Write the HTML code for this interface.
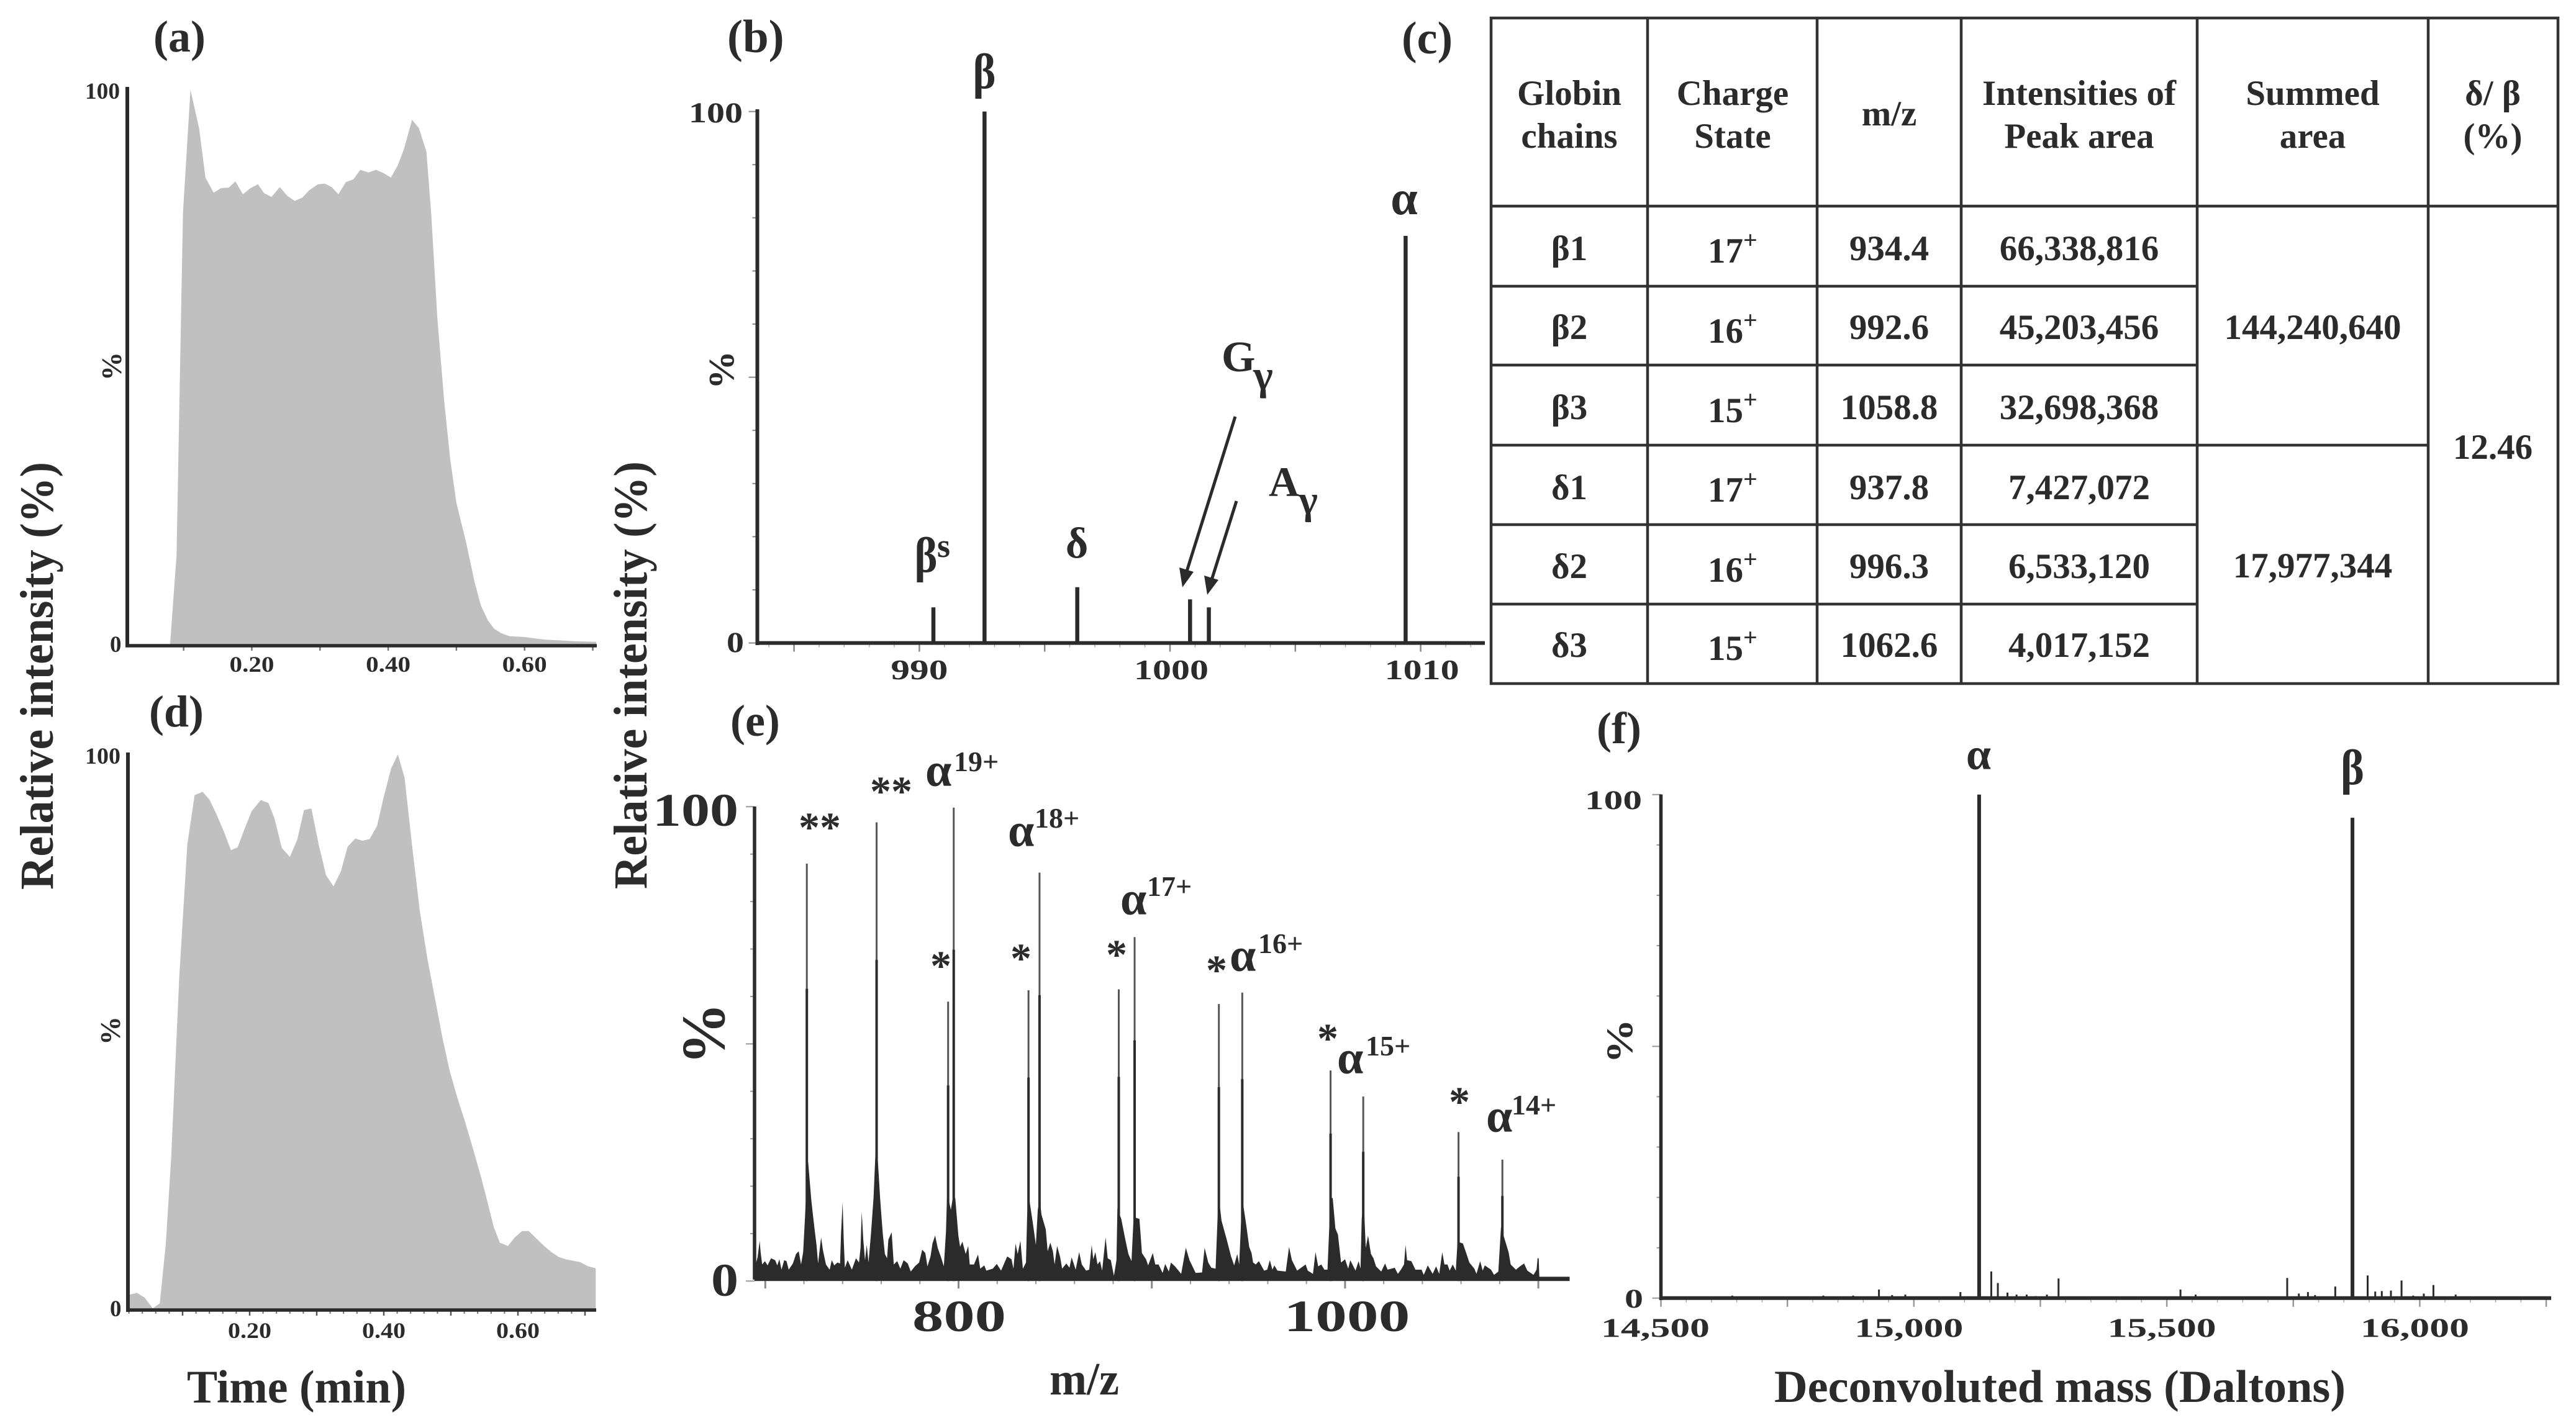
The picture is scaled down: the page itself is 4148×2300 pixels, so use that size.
<!DOCTYPE html>
<html lang="en">
<head>
<meta charset="utf-8">
<title>Globin chain mass spectrometry figure</title>
<style>
html,body{margin:0;padding:0;background:#fff;width:4148px;height:2300px;overflow:hidden}
svg{display:block}
text{font-family:"Liberation Serif","DejaVu Serif",serif;font-weight:bold;fill:#2b2b2b}
.c{text-anchor:middle}
</style>
</head>
<body>
<svg id="figure" xmlns="http://www.w3.org/2000/svg" width="4148" height="2300" viewBox="0 0 4148 2300">
  <rect x="0" y="0" width="4148" height="2300" fill="#ffffff"/>

  <text transform="translate(85,1433) rotate(-90)" font-size="76" textLength="689" lengthAdjust="spacingAndGlyphs">Relative intensity (%)</text>
  <text transform="translate(1041,1432) rotate(-90)" font-size="76" textLength="689" lengthAdjust="spacingAndGlyphs">Relative intensity (%)</text>

  <g id="panel-a">
    <text x="247" y="83" font-size="72">(a)</text>
    <text x="137" y="159" font-size="37" textLength="56" lengthAdjust="spacingAndGlyphs">100</text>
    <text x="177" y="1050" font-size="37">0</text>
    <text class="c" transform="translate(195,590) rotate(-90)" font-size="46">%</text>
  </g>

  <g id="panel-d">
    <text x="240" y="1170" font-size="72">(d)</text>
    <text x="137" y="1230" font-size="37" textLength="57" lengthAdjust="spacingAndGlyphs">100</text>
    <text x="177" y="2120" font-size="37">0</text>
    <text class="c" transform="translate(193,1660) rotate(-90)" font-size="46">%</text>
    <text x="301" y="2259" font-size="75" textLength="353" lengthAdjust="spacingAndGlyphs">Time (min)</text>
  </g>

  <g id="panel-b">
    <text x="1171" y="84" font-size="75">(b)</text>
    <text x="1109" y="197" font-size="47" textLength="87" lengthAdjust="spacingAndGlyphs">100</text>
    <text x="1170" y="1050" font-size="47" textLength="28" lengthAdjust="spacingAndGlyphs">0</text>
    <text class="c" transform="translate(1181,596) rotate(-90)" font-size="58" textLength="62" lengthAdjust="spacingAndGlyphs">%</text>
    <text class="c" x="1585" y="142" font-size="80" textLength="37" lengthAdjust="spacingAndGlyphs">β</text>
    <text class="c" x="2261" y="345" font-size="78">α</text>
    <text class="c" x="1491" y="921" font-size="80" textLength="37" lengthAdjust="spacingAndGlyphs">β</text>
    <text x="1509" y="897" font-size="54">s</text>
    <text class="c" x="1734" y="898" font-size="70">δ</text>
    <text x="1967" y="598" font-size="70">G</text>
    <text x="2018" y="627" font-size="68">γ</text>
    <text x="2043" y="799" font-size="68">A</text>
    <text x="2091" y="827" font-size="66">γ</text>
    <line x1="1989" y1="671" x2="1911" y2="920" stroke="#2b2b2b" stroke-width="5"/>
    <polygon points="1904,946 1899,914 1922,921" fill="#2b2b2b"/>
    <line x1="1991" y1="807" x2="1951" y2="934" stroke="#2b2b2b" stroke-width="5"/>
    <polygon points="1944,958 1939,927 1962,934" fill="#2b2b2b"/>
  </g>

  <text x="2257" y="86" font-size="74">(c)</text>

  <g id="globin-table" font-size="57">
    <g stroke="#333333" stroke-width="4.5">
      <rect x="2401" y="29" width="1718" height="1072" fill="none"/>
      <line x1="2653" y1="29" x2="2653" y2="1101"/>
      <line x1="2926" y1="29" x2="2926" y2="1101"/>
      <line x1="3158" y1="29" x2="3158" y2="1101"/>
      <line x1="3538" y1="29" x2="3538" y2="1101"/>
      <line x1="3910" y1="29" x2="3910" y2="1101"/>
      <line x1="2401" y1="332" x2="4119" y2="332"/>
      <line x1="2401" y1="461" x2="3538" y2="461"/>
      <line x1="2401" y1="588" x2="3538" y2="588"/>
      <line x1="2401" y1="717" x2="3910" y2="717"/>
      <line x1="2401" y1="845" x2="3538" y2="845"/>
      <line x1="2401" y1="973" x2="3538" y2="973"/>
    </g>
    <text class="c" x="2527" y="169">Globin</text>
    <text class="c" x="2527" y="238">chains</text>
    <text class="c" x="2790" y="169">Charge</text>
    <text class="c" x="2790" y="238">State</text>
    <text class="c" x="3042" y="202">m/z</text>
    <text class="c" x="3348" y="169">Intensities of</text>
    <text class="c" x="3348" y="238">Peak area</text>
    <text class="c" x="3724" y="169">Summed</text>
    <text class="c" x="3724" y="238">area</text>
    <text class="c" x="4014" y="169">δ/ β</text>
    <text class="c" x="4014" y="238">(%)</text>

    <text class="c" x="2527" y="419">β1</text>
    <text class="c" x="2527" y="546">β2</text>
    <text class="c" x="2527" y="675">β3</text>
    <text class="c" x="2527" y="804">δ1</text>
    <text class="c" x="2527" y="931">δ2</text>
    <text class="c" x="2527" y="1058">δ3</text>

    <text x="2750" y="423">17<tspan font-size="40" dy="-23">+</tspan></text>
    <text x="2750" y="552">16<tspan font-size="40" dy="-23">+</tspan></text>
    <text x="2750" y="680">15<tspan font-size="40" dy="-23">+</tspan></text>
    <text x="2750" y="808">17<tspan font-size="40" dy="-23">+</tspan></text>
    <text x="2750" y="937">16<tspan font-size="40" dy="-23">+</tspan></text>
    <text x="2750" y="1063">15<tspan font-size="40" dy="-23">+</tspan></text>

    <text class="c" x="3042" y="419">934.4</text>
    <text class="c" x="3042" y="546">992.6</text>
    <text class="c" x="3042" y="675">1058.8</text>
    <text class="c" x="3042" y="804">937.8</text>
    <text class="c" x="3042" y="931">996.3</text>
    <text class="c" x="3042" y="1058">1062.6</text>

    <text class="c" x="3348" y="419">66,338,816</text>
    <text class="c" x="3348" y="546">45,203,456</text>
    <text class="c" x="3348" y="675">32,698,368</text>
    <text class="c" x="3348" y="804">7,427,072</text>
    <text class="c" x="3348" y="931">6,533,120</text>
    <text class="c" x="3348" y="1058">4,017,152</text>

    <text class="c" x="3724" y="546">144,240,640</text>
    <text class="c" x="3724" y="930">17,977,344</text>
    <text class="c" x="4014" y="739">12.46</text>
  </g>

  <g id="panel-e">
    <text x="1176" y="1185" font-size="72">(e)</text>
    <text x="1051" y="1330" font-size="75" textLength="138" lengthAdjust="spacingAndGlyphs">100</text>
    <text x="1145" y="2087" font-size="75" textLength="44" lengthAdjust="spacingAndGlyphs">0</text>
    <text class="c" transform="translate(1166,1665) rotate(-90)" font-size="100">%</text>
    <text x="1690" y="2246" font-size="74" textLength="112" lengthAdjust="spacingAndGlyphs">m/z</text>

    <text x="1286" y="1355" font-size="68">**</text>
    <text x="1401" y="1297" font-size="68">**</text>
    <text x="1498" y="1578" font-size="68">*</text>
    <text x="1627" y="1566" font-size="68">*</text>
    <text x="1781" y="1560" font-size="68">*</text>
    <text x="1942" y="1585" font-size="68">*</text>
    <text x="2121" y="1695" font-size="68">*</text>
    <text x="2333" y="1797" font-size="68">*</text>

    <text x="1490" y="1266" font-size="76">α</text>
    <text x="1536" y="1242" font-size="46">19+</text>
    <text x="1623" y="1363" font-size="76">α</text>
    <text x="1666" y="1333" font-size="46">18+</text>
    <text x="1804" y="1473" font-size="76">α</text>
    <text x="1847" y="1443" font-size="46">17+</text>
    <text x="1980" y="1564" font-size="76">α</text>
    <text x="2026" y="1535" font-size="46">16+</text>
    <text x="2153" y="1729" font-size="76">α</text>
    <text x="2199" y="1700" font-size="46">15+</text>
    <text x="2393" y="1823" font-size="76">α</text>
    <text x="2434" y="1795" font-size="46">14+</text>
  </g>

  <g id="panel-f">
    <text x="2571" y="1197" font-size="72">(f)</text>
    <text x="2552" y="1303" font-size="43" textLength="92" lengthAdjust="spacingAndGlyphs">100</text>
    <text x="2616" y="2106" font-size="43" textLength="30" lengthAdjust="spacingAndGlyphs">0</text>
    <text class="c" transform="translate(2628,1677) rotate(-90)" font-size="60" textLength="72" lengthAdjust="spacingAndGlyphs">%</text>
    <text x="2857" y="2258" font-size="74" textLength="920" lengthAdjust="spacingAndGlyphs">Deconvoluted mass (Daltons)</text>
    <text class="c" x="3186" y="1239" font-size="72">α</text>
    <text class="c" x="3788" y="1263" font-size="80" textLength="38" lengthAdjust="spacingAndGlyphs">β</text>
  </g>
</svg>

<script>
// Panel (a) total ion chromatogram
const timeA = [0.08,0.0896,0.099,0.11,0.1228,0.132,0.144,0.155,0.166,0.176,0.187,0.198,0.209,0.218,0.229,0.241,0.252,0.263,0.274,0.284,0.297,0.307,0.317,0.327,0.338,0.349,0.359,0.371,0.382,0.393,0.404,0.414,0.423,0.435,0.445,0.456,0.463,0.472,0.482,0.491,0.5,0.514,0.527,0.536,0.546,0.555,0.565,0.578,0.597,0.629,0.673,0.705];
const intensityA = [0,16.3,77.8,100,93,84.2,81.5,82.3,82.4,83.5,81.2,82.3,83,81.4,80.7,82.5,80.9,80,80.6,81.9,83,83.1,82.5,81.2,83.4,83.9,85.6,85.1,85.6,85,84.2,86.4,89.3,94.6,93.1,88.9,77.8,59,44.2,33.5,25.7,18.7,11.3,7.2,4.6,3.1,2.3,1.7,1.6,1.1,0.8,0.7];
const xLabelsA = ['0.20','0.40','0.60'];
const xMajorTicksA = [0.1,0.2,0.3,0.4,0.5,0.6,0.7];

// Panel (d) total ion chromatogram
const timeD = [0.0189,0.0319,0.0437,0.0555,0.066,0.075,0.083,0.095,0.107,0.118,0.13,0.14,0.15,0.162,0.172,0.182,0.193,0.203,0.2165,0.228,0.237,0.248,0.26,0.271,0.281,0.292,0.303,0.314,0.325,0.336,0.346,0.3575,0.368,0.379,0.39,0.4,0.411,0.421,0.431,0.442,0.4537,0.465,0.477,0.488,0.498,0.51,0.5215,0.533,0.545,0.555,0.564,0.573,0.585,0.595,0.606,0.616,0.628,0.64,0.65,0.661,0.672,0.693,0.704,0.716];
const intensityD = [2.7,3.1,2.2,0.3,1.2,11.9,27.3,59.7,83.6,92.5,93.1,91.7,89.2,85.8,82.6,83.1,86.6,89.6,91.6,91.1,88.3,83,81.4,84.5,89.8,90.1,83.6,78.1,76.1,78.8,83.2,84.7,84.3,84.6,87,92.2,97.3,99.8,95.6,83.6,71.7,63.1,55.5,48.6,43.1,38,33.7,29,23.9,19.2,14.9,12.1,11.5,13,14.2,14.2,12.8,11.4,10.4,9.5,9.1,8.6,7.9,7.5];
const xLabelsD = ['0.20','0.40','0.60'];
const xMajorTicksD = [0.1,0.2,0.3,0.4,0.5,0.6,0.7];

// Panel (b) spectrum peaks
const mzB = [990.56,992.6,996.3,1000.8,1001.55,1009.4];
const intensityB = [6.7,100,10.5,8.2,6.7,76.6];
const xLabelsB = ['990','1000','1010'];
const xMajorTicksB = [985,990,995,1000,1005,1010];

// Panel (e) noise envelope of the raw spectrum
const envelopeMz = [694.4,696,697.1,697.6,698.4,699.8,701.2,703,705.1,706.2,707.3,708.4,709.8,711,712.1,714.3,715.9,717.3,718.5,719.6,720.5,721,721.4,722.2,723.7,724.4,725.5,726.5,727.3,728.9,729.8,731.4,733.3,734.4,735.7,737.3,738.7,739.2,740,740.6,741.2,742.6,744.8,746.9,748.5,749.3,749.9,750.7,751.6,752.5,753.4,754.7,756,757,758,759.4,759.8,760.8,761.9,763,763.7,765.4,766.5,768.3,769.9,771.6,773.7,775.3,777.4,779.6,781.2,782.8,783.9,785.5,786.5,787.9,789.2,791.1,792.4,793.5,794,795,796,797,798.3,799.9,800.8,802,803.7,805,805.8,808,810.1,811.2,813.3,814.4,817.7,819.8,822,825.2,827.4,828.4,829.5,830.6,832,833.3,834.9,835.5,836.5,838.6,840,841,842,842.9,845.1,846.1,847.5,848.8,849.7,851,852.6,853.6,855.8,857.4,858.5,860.6,862.4,863.8,866,867.6,868.9,869.7,870.8,871.9,873.2,874.3,876.1,877.2,878.8,880.4,881.7,882.2,884.2,886.3,887.9,889.5,890.6,893.6,894.9,897,898.1,900.5,901.8,903.5,905.6,906.9,908.8,909.9,912,915.2,917.6,919.5,922.7,926,927.3,929.2,930.8,933,934,934.7,936.1,938.8,941,942.6,944.2,945.2,946,946.8,949,950.4,951.6,952.4,953.8,955.4,958.1,959.7,961.1,962.4,963.4,965,969.3,971,972.5,975.2,979.6,980.7,983.4,984.7,986.1,987.7,989.3,990.9,992,992.5,993.6,995,996.3,997.9,1000,1001.6,1002.7,1005.4,1007,1008,1008.6,1009.6,1010.7,1011.9,1013.4,1014.7,1016,1018.7,1020.7,1022,1025.7,1027.3,1028.9,1030.5,1031.3,1032.1,1034.3,1036.4,1039.6,1040.7,1042.8,1045.3,1047.1,1048.7,1050.3,1051.4,1053,1054.1,1055.7,1057.3,1058.2,1061,1062.7,1064.3,1066.9,1068,1069.9,1071.2,1072.3,1075.5,1077.1,1079.3,1080.7,1082.8,1084.6,1085.7,1088.4,1090.5,1092.6,1094.3,1097.5,1099.1,1099.6,1100.2,1100.5,1116.2];
const envelopeIntensity = [2.6,5,8.5,6.1,3.5,4.2,3.3,4.8,4.4,3.3,4.6,2.4,4.4,4.2,2.4,3.7,5.7,6.3,3.5,6.1,13.1,17.5,25,25,17.5,14.9,10.9,7.6,3.7,9.2,6.6,3.5,2.4,4.4,3.3,3.9,3.7,10,16.6,8.7,2.8,4.4,2.4,4.8,3.9,7,14.6,8.7,4.4,7.6,3.9,10,17.5,27,27,17.5,15.3,10,5.7,4.8,8.7,10.3,3.5,4.2,2.6,4.4,3.7,2,3.1,3.9,6.6,5.9,3.1,5.2,7.9,9.6,7,4.8,3.1,10.5,17.5,17,15,17.5,17.5,9.6,7.2,8.3,5.7,7.4,3.5,3.5,5.6,2.6,3.3,2.2,2.6,3.6,2.2,5.2,4.6,2.6,7.9,5.7,8.5,2.6,3.9,14,17.5,11.8,7.6,15,17.5,14,10.9,6.3,8.1,6.3,3.5,7.4,5,2.6,3.7,2.8,5,2.4,6.1,3.5,2.2,2.4,7.6,4.6,6.1,3.5,4.2,2.2,9.2,4.8,4.4,1.1,4.4,15.3,13.1,8.7,5.7,4.2,13.5,13.1,5.9,4.6,3.3,5.9,3.5,3.5,1.7,3.6,2,3.9,3.1,1.5,7,4.4,1.7,1.8,7,3.9,2.8,2.6,13,17.5,12.7,8.7,5.2,3.3,5.7,3.5,10.9,17.5,11.4,7.2,5.9,3.9,3.5,4.2,2.2,2.4,4.4,2.4,3.3,2.2,2,7.2,4.4,2.2,3.5,2.2,1.5,6.1,3.1,3.5,2.4,2.4,13.1,17.5,17.5,11.1,9.8,3.9,4.6,2.6,4.4,2.2,4.2,2.6,13.1,17.5,7,9.6,5.7,4.8,3.1,2,3.7,2.4,2.8,1.5,2.4,3.5,7.6,4.4,4.2,2.4,2.4,1.3,3.3,1.5,3.1,1.5,6.1,3.5,3.5,2.2,3.5,2.2,8.3,7.9,5.9,3.9,2.6,1.5,4.2,2.2,3.3,2.4,1.3,2,11.4,8.5,6.1,3.5,2.4,3.1,3.7,2.2,1.3,2.4,4.8,4.8,0.9,0.9];

// Panel (e) tall peaks
const peakMzE = [721.5,757.6,794.6,797.5,836.2,841.9,882.9,891.1,934.7,946.8,992.5,1009.4,1058.7,1081.4];
const peakIntensityE = [88,96.7,58.9,99.8,61.3,86.1,61.5,72.5,58.4,60.8,44.4,38.9,31.4,25.6];
const xLabelsE = ['800','1000'];
const xMajorTicksE = [700,800,900,1000,1100];

// Panel (f) deconvoluted peaks
const massF = [14641,14821,14880,14931,14957,14983,15092,15129,15153,15166,15185,15203,15223,15241,15263,15286,15527,15557,15738,15761,15779,15793,15833,15867,15897,15912,15925,15943,15964,15987,16008,16027,16071,16228];
const intensityF = [0.5,0.5,0.5,1.7,0.6,0.7,1.2,100,5.3,3,1.1,0.7,0.7,0.4,0.7,3.9,1.7,0.7,4,0.9,1.2,0.6,2.3,95.4,4.5,1.3,1.4,1.5,3.5,0.5,0.9,2.6,0.7,0.3];
const xLabelsF = ['14,500','15,000','15,500','16,000'];
const xMajorTicksF = [14500,14750,15000,15250,15500,15750,16000,16250];

const yGridValues = [0,10,20,30,40,50,60,70,80,90,100];

const SVG_NS = 'http://www.w3.org/2000/svg';
const INK = '#2b2b2b';

// Axis functions
const xA = t => 405.5 + (t - 0.2) * 1098;
const yA = v => 1040 - v * 8.955;
const xD = t => 402 + (t - 0.2) * 1080;
const yD = v => 2110 - v * 8.967;
const xB = m => 1884 + (m - 1000) * 40.36;
const yB = v => 1035.6 - v * 8.56;
const xE = m => 1232.3 + (m - 700) * 3.112;
const yE = v => 2063.3 - v * 7.64;
const xF = m => 2674.5 + (m - 14500) * 0.8146;
const yF = v => 2090.8 - v * 8.11;

function makeLine(parent, x1, y1, x2, y2, w, color) {
  const el = document.createElementNS(SVG_NS, 'line');
  el.setAttribute('x1', x1);
  el.setAttribute('y1', y1);
  el.setAttribute('x2', x2);
  el.setAttribute('y2', y2);
  el.setAttribute('stroke', color);
  el.setAttribute('stroke-width', w);
  parent.appendChild(el);
  return el;
}

function makeLabel(parent, str, x, y, size, width) {
  const el = document.createElementNS(SVG_NS, 'text');
  el.setAttribute('x', x - width / 2);
  el.setAttribute('y', y);
  el.setAttribute('font-size', size);
  el.setAttribute('textLength', width);
  el.setAttribute('lengthAdjust', 'spacingAndGlyphs');
  el.textContent = str;
  parent.appendChild(el);
  return el;
}

function drawArea(parent, times, values, xf, yf) {
  const pts = times.map((t, i) => xf(t).toFixed(1) + ',' + yf(values[i]).toFixed(1));
  const d = 'M' + xf(times[0]).toFixed(1) + ',' + yf(0).toFixed(1) + ' L' + pts.join(' L') + ' L' + xf(times[times.length - 1]).toFixed(1) + ',' + yf(0).toFixed(1) + ' Z';
  const el = document.createElementNS(SVG_NS, 'path');
  el.setAttribute('d', d);
  el.setAttribute('fill', '#c0c0c0');
  parent.appendChild(el);
  return el;
}

function toNumber(label) {
  return parseFloat(label.replace(/,/g, ''));
}

/* ---------- Panel a ---------- */
const panelA = document.getElementById('panel-a');
const areaA = drawArea(panelA, timeA, intensityA, xA, yA);


xMajorTicksA.forEach(t => {
  const tick = makeLine(panelA, xA(t), yA(0), xA(t), yA(0) + 8, 2.5, '#777');
  
  
});
xLabelsA.forEach(l => {
  const label = makeLabel(panelA, l, xA(toNumber(l)), 1082, 36, 72);
  
  
});
const axisAY = makeLine(panelA, 205, 140, 205, 1042.5, 6, INK);


const axisAX = makeLine(panelA, 202, yA(0), 961, yA(0), 5.5, INK);



/* ---------- Panel d ---------- */
const panelD = document.getElementById('panel-d');
const areaD = drawArea(panelD, timeD, intensityD, xD, yD);


for (let t = 0.02; t < 0.72; t += 0.02) {
  const minor = makeLine(panelD, xD(t), yD(0), xD(t), yD(0) + 6, 2, '#777');
  
  
}
xMajorTicksD.forEach(t => {
  const tick = makeLine(panelD, xD(t), yD(0), xD(t), yD(0) + 9, 2.5, '#555');
  
  
});
xLabelsD.forEach(l => {
  const label = makeLabel(panelD, l, xD(toNumber(l)), 2155, 36, 70);
  
  
});
const axisDY = makeLine(panelD, 206, 1212, 206, 2113, 6, INK);


const axisDX = makeLine(panelD, 203, yD(0), 960, yD(0), 5.5, INK);



/* ---------- Panel b ---------- */
const panelB = document.getElementById('panel-b');
yGridValues.forEach(v => {
  const tick = makeLine(panelB, 1219.5 - (v % 50 === 0 ? 14 : 8), yB(v), 1219.5, yB(v), 2, '#888');
  
  
});
for (let m = 984; m <= 1012; m += 1) {
  const minor = makeLine(panelB, xB(m), yB(0), xB(m), yB(0) + 7, 1.5, '#aaa');
  
  
}
xMajorTicksB.forEach(m => {
  const tick = makeLine(panelB, xB(m), yB(0), xB(m), yB(0) + 14, 2.5, '#888');
  
  
});
xLabelsB.forEach(l => {
  const label = makeLabel(panelB, l, xB(toNumber(l)) + (l === '990' ? 0 : 2), 1094, 46, l === '990' ? 92 : 120);
  
  
});
mzB.forEach((m, i) => {
  const stick = makeLine(panelB, xB(m), yB(intensityB[i]), xB(m), yB(0), 6.5, INK);
  
  
});
const axisBY = makeLine(panelB, 1219.5, 176, 1219.5, 1039, 6, INK);


const axisBX = makeLine(panelB, 1217, yB(0), 2391, yB(0), 6, INK);



/* ---------- Panel e ---------- */
const panelE = document.getElementById('panel-e');
yGridValues.forEach(v => {
  const tick = makeLine(panelE, 1215 - (v % 50 === 0 ? 14 : 7), yE(v), 1215, yE(v), 2, '#999');
  
  
});
for (let m = 700; m <= 1100; m += 20) {
  const minor = makeLine(panelE, xE(m), yE(0), xE(m), yE(0) + 5, 2, '#999');
  
  
}
xMajorTicksE.forEach(m => {
  const tick = makeLine(panelE, xE(m), yE(0), xE(m), yE(0) + 12, 3, '#888');
  
  
});
xLabelsE.forEach(l => {
  const label = makeLabel(panelE, l, xE(toNumber(l)) + (l === '800' ? 1 : 3), 2144, 72, l === '800' ? 151 : 203);
  
  
});
const envelopeD = 'M' + xE(envelopeMz[0]).toFixed(1) + ',' + yE(0).toFixed(1) + ' L' + envelopeMz.map((m, i) => xE(m).toFixed(1) + ',' + yE(envelopeIntensity[i]).toFixed(1)).join(' L') + ' L' + xE(envelopeMz[envelopeMz.length - 1]).toFixed(1) + ',' + yE(0).toFixed(1) + ' Z';
const envelope = document.createElementNS(SVG_NS, 'path');
envelope.setAttribute('d', envelopeD);
envelope.setAttribute('fill', INK);


panelE.appendChild(envelope);
peakMzE.forEach((m, i) => {
  const thin = makeLine(panelE, xE(m), yE(peakIntensityE[i]), xE(m), yE(0), 3, '#555');
  
  
  const thick = makeLine(panelE, xE(m), yE(peakIntensityE[i] * 0.7), xE(m), yE(0), 4, INK);
  
  
});
const axisEY = makeLine(panelE, 1215, 1299, 1215, 2061, 5.5, INK);



/* ---------- Panel f ---------- */
const panelF = document.getElementById('panel-f');
yGridValues.forEach(v => {
  const tick = makeLine(panelF, 2674.5 - (v % 50 === 0 ? 14 : 7), yF(v), 2674.5, yF(v), 2, '#999');
  
  
});
for (let m = 14500; m <= 16250; m += 50) {
  const minor = makeLine(panelF, xF(m), yF(0), xF(m), yF(0) + 7, 1.5, '#aaa');
  
  
}
xMajorTicksF.forEach(m => {
  const tick = makeLine(panelF, xF(m), yF(0), xF(m), yF(0) + 14, 2.5, '#999');
  
  
});
xLabelsF.forEach(l => {
  const label = makeLabel(panelF, l, xF(toNumber(l)) - (l === '14,500' ? 9 : 8), 2153, 43, 175);
  
  
});
massF.forEach((m, i) => {
  const stick = makeLine(panelF, xF(m), yF(intensityF[i]), xF(m), yF(0), intensityF[i] > 50 ? 6 : 3, INK);
  
  
});
const axisFY = makeLine(panelF, 2674.5, 1279.5, 2674.5, 2094, 5.5, INK);


const axisFX = makeLine(panelF, 2672, yF(0), 4108, yF(0), 6, INK);


</script>
</body>
</html>
